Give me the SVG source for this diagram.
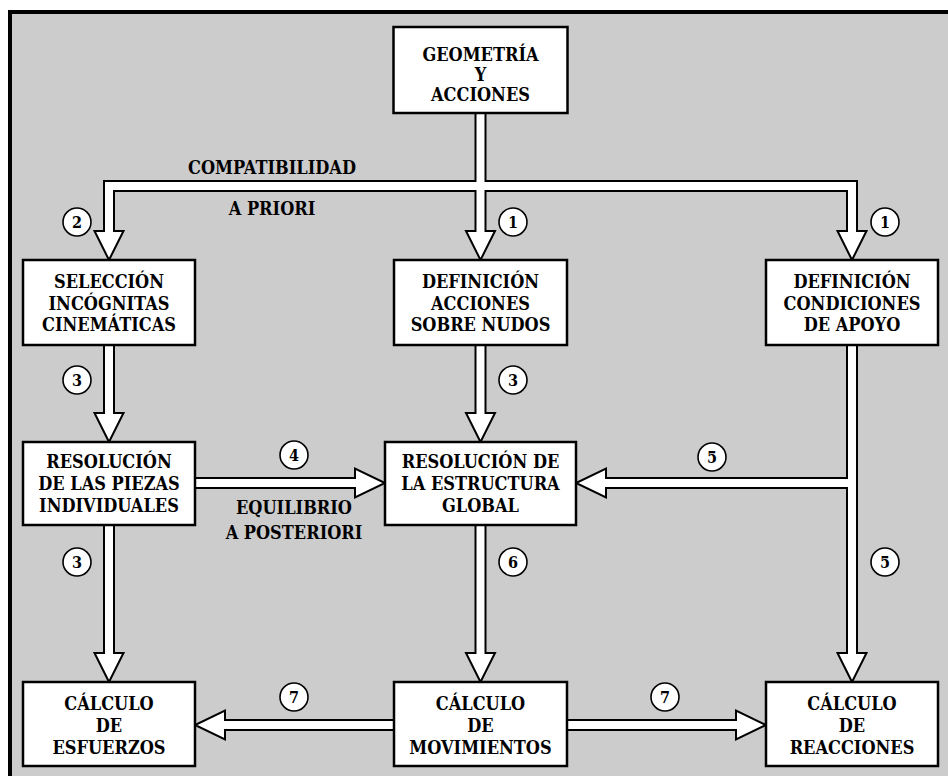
<svg xmlns="http://www.w3.org/2000/svg" width="948" height="776" viewBox="0 0 948 776">
<style>
.box{fill:#fff;stroke:#000;stroke-width:2.5}
.t{font-family:'DejaVu Serif Condensed','DejaVu Serif',serif;font-weight:bold;font-size:18px;text-anchor:middle;fill:#000}
.n{font-family:'DejaVu Serif Condensed','DejaVu Serif',serif;font-weight:bold;font-size:16px;text-anchor:middle;fill:#000}
.c{fill:#fff;stroke:#000;stroke-width:1.6}
.ob{fill:none;stroke:#000;stroke-width:12;stroke-linejoin:miter;stroke-linecap:butt}
.iw{fill:none;stroke:#fff;stroke-width:8;stroke-linejoin:miter;stroke-linecap:butt}
.hd{fill:#fff;stroke:#000;stroke-width:2;stroke-linejoin:miter}
</style>
<rect x="0" y="0" width="948" height="776" fill="#fff"/>
<rect x="10" y="12" width="950" height="780" fill="#cccccc" stroke="#000" stroke-width="4"/>

<g id="connectors">
  <g id="outlines">
    <path class="ob" d="M480.5 110 L480.5 231"/>
    <path class="ob" d="M109 231 L109 186 L852 186 L852 231"/>
    <path class="ob" d="M109 343 L109 413"/>
    <path class="ob" d="M480.5 343 L480.5 413"/>
    <path class="ob" d="M852 343 L852 653"/>
    <path class="ob" d="M852 483 L606 483"/>
    <path class="ob" d="M193 483 L355 483"/>
    <path class="ob" d="M109 523 L109 653"/>
    <path class="ob" d="M480.5 523 L480.5 653"/>
    <path class="ob" d="M396 725 L225 725"/>
    <path class="ob" d="M565 725 L736 725"/>
  </g>
  <g id="heads">
    <polygon class="hd" points="94.5,231 123.5,231 109,260"/>
    <polygon class="hd" points="466,231 495,231 480.5,260"/>
    <polygon class="hd" points="837.5,231 866.5,231 852,260"/>
    <polygon class="hd" points="94.5,413 123.5,413 109,442"/>
    <polygon class="hd" points="466,413 495,413 480.5,442"/>
    <polygon class="hd" points="355,468.5 355,497.5 385,483"/>
    <polygon class="hd" points="606,468.5 606,497.5 576,483"/>
    <polygon class="hd" points="94.5,653 123.5,653 109,682"/>
    <polygon class="hd" points="466,653 495,653 480.5,682"/>
    <polygon class="hd" points="837.5,653 866.5,653 852,682"/>
    <polygon class="hd" points="225,710.5 225,739.5 195,725"/>
    <polygon class="hd" points="736,710.5 736,739.5 766,725"/>
  </g>
  <g id="insides">
    <path class="iw" d="M480.5 110 L480.5 233.5"/>
    <path class="iw" d="M109 233.5 L109 186 L852 186 L852 233.5"/>
    <path class="iw" d="M109 343 L109 415.5"/>
    <path class="iw" d="M480.5 343 L480.5 415.5"/>
    <path class="iw" d="M852 343 L852 655.5"/>
    <path class="iw" d="M852 483 L603.5 483"/>
    <path class="iw" d="M193 483 L357.5 483"/>
    <path class="iw" d="M109 523 L109 655.5"/>
    <path class="iw" d="M480.5 523 L480.5 655.5"/>
    <path class="iw" d="M396 725 L222.5 725"/>
    <path class="iw" d="M565 725 L738.5 725"/>
  </g>
  <g id="labels">
    <text class="t" x="272" y="174">COMPATIBILIDAD</text>
    <text class="t" x="272" y="215">A PRIORI</text>
    <text class="t" x="294" y="514">EQUILIBRIO</text>
    <text class="t" x="294" y="539">A POSTERIORI</text>
  </g>
  <g id="steps">
    <circle class="c" cx="77" cy="222" r="14"/><text class="n" x="77" y="227.5">2</text>
    <circle class="c" cx="513" cy="222" r="14"/><text class="n" x="513" y="227.5">1</text>
    <circle class="c" cx="885" cy="222" r="14"/><text class="n" x="885" y="227.5">1</text>
    <circle class="c" cx="77" cy="380" r="14"/><text class="n" x="77" y="385.5">3</text>
    <circle class="c" cx="513" cy="380" r="14"/><text class="n" x="513" y="385.5">3</text>
    <circle class="c" cx="294" cy="455" r="14"/><text class="n" x="294" y="460.5">4</text>
    <circle class="c" cx="712" cy="457" r="14"/><text class="n" x="712" y="462.5">5</text>
    <circle class="c" cx="77" cy="562" r="14"/><text class="n" x="77" y="567.5">3</text>
    <circle class="c" cx="513" cy="562" r="14"/><text class="n" x="513" y="567.5">6</text>
    <circle class="c" cx="885" cy="562" r="14"/><text class="n" x="885" y="567.5">5</text>
    <circle class="c" cx="294" cy="697" r="14"/><text class="n" x="294" y="702.5">7</text>
    <circle class="c" cx="665" cy="697" r="14"/><text class="n" x="665" y="702.5">7</text>
  </g>
</g>

<g id="geometria">
  <rect class="box" x="393.5" y="27" width="174" height="86"/>
  <text class="t" x="480.5" y="61">GEOMETRÍA</text>
  <text class="t" x="480.5" y="81">Y</text>
  <text class="t" x="480.5" y="101">ACCIONES</text>
</g>
<g id="seleccion">
  <rect class="box" x="23" y="260" width="172" height="85"/>
  <text class="t" x="109" y="288">SELECCIÓN</text>
  <text class="t" x="109" y="309.5">INCÓGNITAS</text>
  <text class="t" x="109" y="331">CINEMÁTICAS</text>
</g>
<g id="def-acciones">
  <rect class="box" x="394" y="260" width="173" height="85"/>
  <text class="t" x="480.5" y="288">DEFINICIÓN</text>
  <text class="t" x="480.5" y="309.5">ACCIONES</text>
  <text class="t" x="480.5" y="331">SOBRE NUDOS</text>
</g>
<g id="def-apoyo">
  <rect class="box" x="766" y="260" width="172" height="85"/>
  <text class="t" x="852" y="288">DEFINICIÓN</text>
  <text class="t" x="852" y="309.5">CONDICIONES</text>
  <text class="t" x="852" y="331">DE APOYO</text>
</g>
<g id="res-piezas">
  <rect class="box" x="23" y="442" width="172" height="83"/>
  <text class="t" x="109" y="468">RESOLUCIÓN</text>
  <text class="t" x="109" y="490">DE LAS PIEZAS</text>
  <text class="t" x="109" y="512">INDIVIDUALES</text>
</g>
<g id="res-global">
  <rect class="box" x="385" y="442" width="191" height="83"/>
  <text class="t" x="480.5" y="468">RESOLUCIÓN DE</text>
  <text class="t" x="480.5" y="490">LA ESTRUCTURA</text>
  <text class="t" x="480.5" y="512">GLOBAL</text>
</g>
<g id="esfuerzos">
  <rect class="box" x="23" y="682" width="172" height="84"/>
  <text class="t" x="109" y="710">CÁLCULO</text>
  <text class="t" x="109" y="732">DE</text>
  <text class="t" x="109" y="754">ESFUERZOS</text>
</g>
<g id="movimientos">
  <rect class="box" x="394" y="682" width="173" height="84"/>
  <text class="t" x="480.5" y="710">CÁLCULO</text>
  <text class="t" x="480.5" y="732">DE</text>
  <text class="t" x="480.5" y="754">MOVIMIENTOS</text>
</g>
<g id="reacciones">
  <rect class="box" x="766" y="682" width="172" height="84"/>
  <text class="t" x="852" y="710">CÁLCULO</text>
  <text class="t" x="852" y="732">DE</text>
  <text class="t" x="852" y="754">REACCIONES</text>
</g>
</svg>
